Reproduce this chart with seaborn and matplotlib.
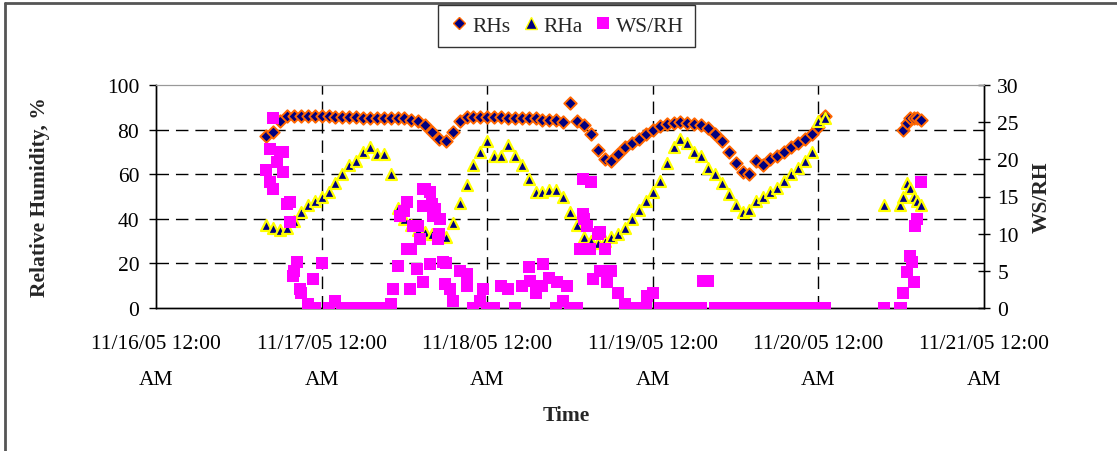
import numpy as np
import pandas as pd
import matplotlib
matplotlib.use("Agg")
import matplotlib.pyplot as plt
from matplotlib.lines import Line2D
import seaborn as sns

# hourly readings, hours after 11/16/05 12:00 AM
hours_1 = list(range(16, 98))
rhs_1 = [77, 79, 84, 86, 86, 86, 86, 86, 86, 86,
         85.5, 85.5, 85.5, 85.5, 85, 85, 85, 85, 85, 85,
         85, 84.5, 84, 82, 79, 76, 75, 79, 84, 85.5,
         85.5, 85.5, 85.5, 85.5, 85.5, 85, 85, 85, 85, 85,
         84.5, 84.5, 84.5, 83.5, 92, 84, 82, 78, 71, 67,
         66, 69, 72, 74, 76, 78, 80, 81.5, 82.5, 83,
         83.5, 83, 82.5, 82, 80.5, 78, 75, 70, 65, 61,
         60, 66, 64, 67, 68, 70, 72, 74, 76, 78,
         81, 86]
rha_1 = [37, 36, 35, 36, 39, 43, 46, 48, 50, 52,
         56, 60, 64, 66, 70, 72, 69, 69, 60, 45,
         40, 37, 35, 34, 33, 32, 32, 38, 47, 55,
         64, 70, 75, 68, 68, 73, 68, 64, 58, 52,
         52, 53, 53, 50, 43, 37, 32, 30, 29, 30,
         32, 33, 36, 40, 44, 48, 52, 57, 65, 72,
         76, 74, 70, 68, 63, 60, 56, 51, 46, 43,
         44, 48, 50, 52, 54, 57, 60, 63, 66, 70,
         84, 85]
wsrh_1 = [18.5, 25.5, 21, 14, 5, 2, 0.5, 0, 6, 0,
          1, 0, 0, 0, 0, 0, 0, 0, 0.5, 5.6,
          13, 8, 11, 16, 14, 10, 6, 1, 5, 3,
          0, 1, 0, 0, 3, 2.5, 0, 3, 5.5, 2,
          3, 4, 0, 1, 0, 0, 12, 17, 10, 8,
          5, 2, 0.5, 0, 0, 0, 2, 0, 0, 0,
          0, 0, 0, 0, 3.6, 0, 0, 0, 0, 0,
          0, 0, 0, 0, 0, 0, 0, 0, 0, 0,
          0, 0]

# second block on 11/20
hours_2 = [105.5, 107.8, 108.3, 108.8, 109.3, 109.8, 110.3, 110.8]
rhs_2 = [np.nan, np.nan, 80, 83, 85, 85, 85, 84.5]
rha_2 = [46, 46, 50, 56, 54, 50, 48, 46]
wsrh_2 = [0, 0, 2, 4.8, 7, 3.5, 12, 17]

# extra scattered WS/RH readings
ws_extra_h = [16.5, 18.4, 17.5, 18.4, 16.5, 17.0, 19.4, 19.4, 20.4, 19.9,
              20.9, 22.8, 35.4, 36.4, 37.2, 36.4, 34.3, 36.8, 37.8, 38.7,
              39.7, 38.7, 40.1, 40.4, 41.2, 40.9, 41.6, 41.9, 39.7, 38.3,
              38.7, 45.1, 42.6, 47.4, 54.2, 55.7, 56.1, 58.1, 59.6, 61.9,
              61.9, 62.5, 64.3, 61.4, 62.9, 64.3, 65.4, 63.3, 71.2, 79.3,
              108.0, 109.6, 110.0]
ws_extra = [21.4, 21, 19.6, 18.3, 17, 16, 14.3, 11.6, 6.2, 4.3,
            2.6, 3.9, 12.4, 14.3, 11, 7.9, 2.6, 2.6, 5.2, 16,
            15.6, 3.5, 12.4, 13.3, 12, 9.3, 6.2, 3.2, 5.9, 9.3,
            13.7, 4.6, 2.6, 2.6, 3.6, 3, 5.9, 3.5, 3, 17.4,
            12.6, 11, 10.2, 7.9, 7.9, 5, 3.5, 3.9, 1.6, 3.6,
            0, 6.2, 11]

day_labels = ["11/16/05 12:00\nAM", "11/17/05 12:00\nAM", "11/18/05 12:00\nAM",
              "11/19/05 12:00\nAM", "11/20/05 12:00\nAM", "11/21/05 12:00\nAM"]

t0 = pd.Timestamp("2005-11-16")
rh = pd.DataFrame({
    "time": t0 + pd.to_timedelta(hours_1 + hours_2, unit="h"),
    "RHs": rhs_1 + rhs_2,
    "RHa": rha_1 + rha_2,
})
ws = pd.DataFrame({
    "time": t0 + pd.to_timedelta(hours_1 + hours_2 + ws_extra_h, unit="h"),
    "WS/RH": wsrh_1 + wsrh_2 + ws_extra,
})

sns.set_style("white")
plt.rcParams["font.family"] = ["Liberation Serif", "DejaVu Serif"]
plt.rcParams["font.size"] = 15.5

fig = plt.figure(figsize=(11.17, 4.52), dpi=100)
ax = fig.add_axes([156 / 1117, 1 - 309 / 452, 828 / 1117, 223 / 452])
ax2 = ax.twinx()

navy = "#000080"
sns.scatterplot(data=rh, x="time", y="RHs", marker="D", s=40, color=navy,
                edgecolor="#FF6600", linewidth=1.4, ax=ax, zorder=3, legend=False)
sns.scatterplot(data=rh, x="time", y="RHa", marker="^", s=62, color=navy,
                edgecolor="#FFFF00", linewidth=1.6, ax=ax, zorder=3, legend=False)
sns.scatterplot(data=ws, x="time", y="WS/RH", marker="s", s=78, color="#FF00FF",
                linewidth=0, ax=ax2, zorder=3, legend=False)

days = [t0 + pd.Timedelta(days=i) for i in range(6)]
ax.set_xlim(days[0], days[-1])
ax.set_ylim(0, 100)
ax2.set_ylim(0, 30)
ax.set_yticks([0, 20, 40, 60, 80, 100])
ax2.set_yticks([0, 5, 10, 15, 20, 25, 30])
ax.set_xticks(days)
ax.set_xticklabels(day_labels, linespacing=2.2)

dash = (0, (9, 5))
for v in [20, 40, 60, 80]:
    ax.axhline(v, color="black", lw=1, ls=dash, zorder=1)
for d in days[1:-1]:
    ax.axvline(d, color="black", lw=1, ls=dash, zorder=1)

for a in (ax, ax2):
    for side in ("left", "right", "bottom"):
        a.spines[side].set_color("black")
        a.spines[side].set_linewidth(1)
    a.spines["top"].set_color("#999999")
    a.spines["top"].set_linewidth(0.8)

ax.tick_params(axis="x", direction="out", length=5, width=1, pad=14, colors="black")
ax.tick_params(axis="y", direction="out", length=5, width=1, pad=7, colors="black")
ax2.tick_params(axis="y", direction="inout", length=9, width=1, pad=5, colors="black")

ax.set_xlabel("Time", fontweight="bold", fontsize=15.5)
ax.set_ylabel("Relative Humidity, %", fontweight="bold", fontsize=15.5)
ax2.set_ylabel("WS/RH", fontweight="bold", fontsize=15.5)
ax.xaxis.set_label_coords(0.496, -0.435)
ax.yaxis.set_label_coords(-0.128, 0.5)
ax2.yaxis.set_label_coords(1.058, 0.5)

handles = [
    Line2D([], [], ls="", marker="D", ms=6, mfc=navy, mec="#FF6600", mew=1),
    Line2D([], [], ls="", marker="^", ms=8, mfc=navy, mec="#FFFF00", mew=1),
    Line2D([], [], ls="", marker="s", ms=8, mfc="#FF00FF", mec="#FF00FF", mew=0),
]
leg = fig.legend(handles, ["RHs", "RHa", "WS/RH"], loc="upper center",
                 bbox_to_anchor=(0.507, 1 - 6 / 452), borderaxespad=0, ncol=3,
                 frameon=True, fancybox=False, edgecolor="black", handletextpad=0.1,
                 columnspacing=0.45, borderpad=0.5, handlelength=1.0, fontsize=15.5)
leg.get_frame().set_linewidth(1)

# outer chart frame (top and left edges visible)
fig.add_artist(Line2D([5 / 1117, 1], [1 - 4 / 452, 1 - 4 / 452], color="#555555", lw=2))
fig.add_artist(Line2D([5 / 1117, 5 / 1117], [0, 1 - 4 / 452], color="#555555", lw=2))

fig.savefig("out.png", dpi=100)
